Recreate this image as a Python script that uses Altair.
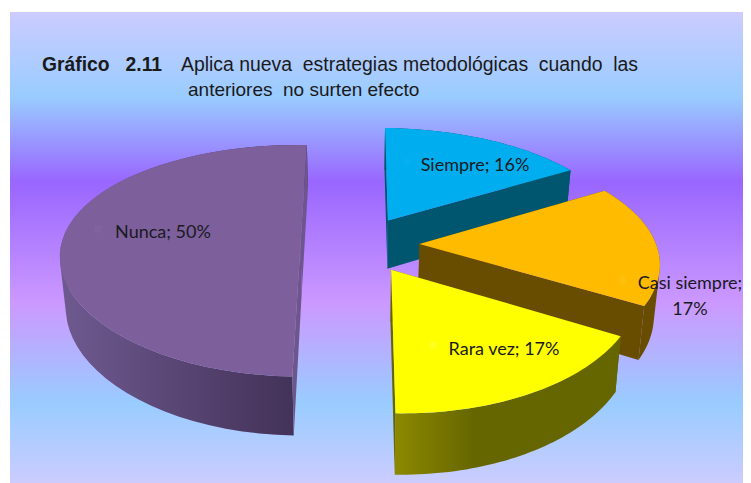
import math
import altair as alt
import pandas as pd

# ---- chart values ----
categories = ["Siempre", "Casi siempre", "Rara vez", "Nunca"]
percentages = [16, 17, 17, 50]
top_colors = ["#00aeef", "#ffbb00", "#ffff00", "#7d5f9c"]
key_colors = ["#0cb2ef", "#ffc31a", "#ffff40", "#846aa2"]
title_bold = "Gráfico\u00a0\u00a0\u00a02.11"
title_line_1 = "Aplica nueva\u00a0\u00a0estrategias metodológicas\u00a0\u00a0cuando\u00a0\u00a0las"
title_line_2 = "anteriores\u00a0\u00a0no surten efecto"

# ---- layout and 3-D view ----
W, H = 735, 475
VX, VY, Y0, KX, KY, RX, EXPLODE, DEPTH, SHRINK, ROLL = 352, -509, 236, 0.12, 0.152, 238, 0.25, 50, 0.02, 3.5
ARC_STEPS = 48
label_pos = {"Siempre": (467, 158), "Casi siempre": (682, 276), "Rara vez": (496, 342), "Nunca": (155, 225)}
key_pos = {"Siempre": (399, 154), "Casi siempre": (615, 272), "Rara vez": (425, 337), "Nunca": (90, 221)}
draw_order = ["Siempre", "Casi siempre", "Nunca", "Rara vez"]
wall_style = {
    "Siempre": {"cut": "#00566f", "outer": "#00566f"},
    "Casi siempre": {"cut": "#684d00", "outer": "#684d00"},
    "Nunca": {"cut": "#6d568c", "outer": alt.Gradient(gradient="linear", x1=0, x2=1, y1=0, y2=0,
              stops=[alt.GradientStop(offset=0, color="#6f5a90"), alt.GradientStop(offset=1, color="#402f55")])},
    "Rara vez": {"cut": "#666600", "outer": alt.Gradient(gradient="linear", x1=0, x2=1, y1=0, y2=0,
              stops=[alt.GradientStop(offset=0, color="#8c8900"), alt.GradientStop(offset=0.35, color="#666600"),
                     alt.GradientStop(offset=1, color="#666600")])},
}


def project(x, y, low=False):
    sx = VX + RX * x / (1 + KX * y)
    w = 1 + KY * y
    sy = VY + (Y0 - VY) / w + ROLL * x / w
    if low:
        sx = VX + (sx - VX) * (1 - SHRINK)
        sy += DEPTH / w
    return [sx, sy]


def oriented(points):
    area = sum(points[i][0] * points[(i + 1) % len(points)][1] - points[(i + 1) % len(points)][0] * points[i][1]
               for i in range(len(points)))
    ring = points if area > 0 else points[::-1]
    return [ring + [ring[0]]]


def polygon(points):
    return {"type": "Feature", "geometry": {"type": "Polygon", "coordinates": oriented(points)}}


def shape(feature, fill):
    return alt.Chart(alt.Data(values=[feature])).mark_geoshape(
        fill=fill, stroke=None, strokeWidth=0
    ).project(type="identity", scale=1, translate=[0, 0])


layers = []
bg = alt.Gradient(gradient="linear", x1=0, x2=0, y1=0, y2=1, stops=[
    alt.GradientStop(offset=0, color="#ccccff"), alt.GradientStop(offset=0.18, color="#99ccff"),
    alt.GradientStop(offset=0.36, color="#9966ff"), alt.GradientStop(offset=0.62, color="#cc99ff"),
    alt.GradientStop(offset=0.83, color="#99ccff"), alt.GradientStop(offset=1, color="#ccccff")])
layers.append(alt.Chart(pd.DataFrame({"a": [0]})).mark_rect(fill=bg).encode(
    x=alt.value(2), x2=alt.value(W), y=alt.value(4), y2=alt.value(H)))

bounds = {}
start = 0.0
for cat, pct in zip(categories, percentages):
    bounds[cat] = (start, start + pct * 3.6)
    start += pct * 3.6

for cat in draw_order:
    i = categories.index(cat)
    a0, a1 = bounds[cat]
    mid = math.radians((a0 + a1) / 2)
    ox, oy = EXPLODE * math.sin(mid), EXPLODE * math.cos(mid)
    angles = [math.radians(a0 + (a1 - a0) * s / ARC_STEPS) for s in range(ARC_STEPS + 1)]
    rim = [(ox + math.sin(t), oy + math.cos(t)) for t in angles]
    top_arc = [project(*p) for p in rim]
    low_arc = [project(*p, low=True) for p in rim]
    apex, apex_low = project(ox, oy), project(ox, oy, low=True)
    style = wall_style[cat]
    quads = [oriented([top_arc[s], top_arc[s + 1], low_arc[s + 1], low_arc[s]]) for s in range(ARC_STEPS)]
    layers.append(shape({"type": "Feature", "geometry": {"type": "MultiPolygon", "coordinates": quads}},
                        style["outer"]))
    layers.append(shape(polygon([apex, top_arc[0], low_arc[0], apex_low]), style["cut"]))
    layers.append(shape(polygon([apex, top_arc[-1], low_arc[-1], apex_low]), style["cut"]))
    layers.append(shape(polygon([apex] + top_arc), top_colors[i]))

xs = alt.Scale(domain=[0, W])
ys = alt.Scale(domain=[H, 0])
kx = alt.X("x:Q", scale=xs, axis=None)
ky = alt.Y("y:Q", scale=ys, axis=None)

keys = pd.DataFrame({"x": [key_pos[c][0] for c in categories], "y": [key_pos[c][1] for c in categories],
                     "c": key_colors})
layers.append(alt.Chart(keys).mark_square(size=50, opacity=0.5).encode(
    x=kx, y=ky, color=alt.Color("c:N", scale=None)))

label_text = []
for c, p in zip(categories, percentages):
    label_text.append(f"{c};\n{p}%" if c == "Casi siempre" else f"{c}; {p}%")
labels = pd.DataFrame({"x": [label_pos[c][0] for c in categories], "y": [label_pos[c][1] for c in categories],
                       "t": label_text})
layers.append(alt.Chart(labels).mark_text(font="Lato", fontSize=18, color="#1a1a22", lineBreak="\n",
                                          lineHeight=26, align="center", baseline="middle").encode(
    x=kx, y=ky, text="t:N"))

title_rows = [(34, 57, title_bold, "bold", 19.3), (173, 57, title_line_1, "normal", 19.4),
              (180, 82, title_line_2, "normal", 19)]
for tx, ty, text, weight, size in title_rows:
    layers.append(alt.Chart(pd.DataFrame({"x": [tx], "y": [ty], "t": [text]})).mark_text(
        font="Liberation Sans", fontSize=size, fontWeight=weight, color="#1a1a1a", align="left", baseline="middle"
    ).encode(x=kx, y=ky, text="t:N"))

chart = alt.layer(*layers).properties(width=W, height=H, padding=0, background="white").configure_view(stroke=None)
chart.save("out.html", embed_options={"renderer": "svg", "actions": False})
